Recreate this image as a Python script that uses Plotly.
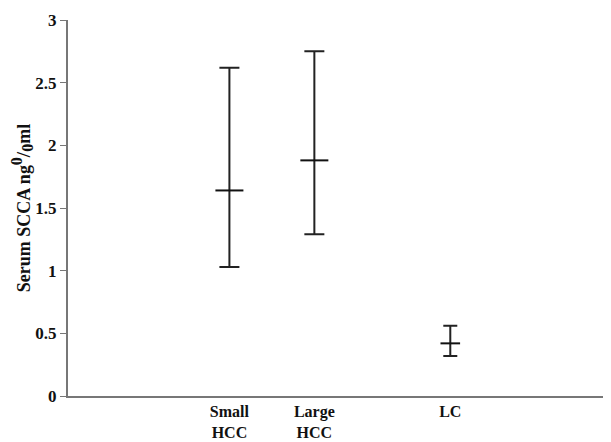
import plotly.graph_objects as go

categories = ["Small<br>HCC", "Large<br>HCC", "LC"]
means = [1.64, 1.88, 0.42]
upper = [2.62, 2.75, 0.56]
lower = [1.03, 1.29, 0.32]
y_ticks = [0, 0.5, 1, 1.5, 2, 2.5, 3]
y_tick_labels = ["0", "0.5", "1", "1.5", "2", "2.5", "3"]

x_pos = [1.9, 2.9, 4.5]
cap_half = [10, 10, 7]

fig = go.Figure()
for i in range(len(categories)):
    fig.add_trace(go.Scatter(
        x=[x_pos[i]], y=[means[i]], mode="markers",
        marker=dict(symbol="line-ew", size=2 * cap_half[i], line=dict(color="#111111", width=2), color="#111111"),
        error_y=dict(type="data", symmetric=False, array=[upper[i] - means[i]],
                     arrayminus=[means[i] - lower[i]],
                     color="#222222", thickness=2, width=cap_half[i]),
        showlegend=False,
    ))

title_text = ("<b>Serum SCCA ng<sup><span style='font-size:16px'>0</span></sup>"
              "<span style='font-size:19px'>/</span>"
              "<sub><span style='font-size:16px'>0</span></sub>ml</b>")

font = dict(family="Liberation Serif, Times New Roman, serif", size=17, color="#111111")
fig.update_layout(
    width=603, height=434,
    margin=dict(l=60, r=1, t=12, b=46),
    paper_bgcolor="white", plot_bgcolor="white",
    font=font,
    xaxis=dict(range=[0, 6.38], tickvals=x_pos,
               ticktext=["<b>%s</b>" % c.replace("<br>", "</b><br><b>") for c in categories],
               showgrid=False, zeroline=False, showline=True, linecolor="#777777", linewidth=2,
               ticks="", tickfont=dict(size=16), automargin=False),
    yaxis=dict(range=[0, 3], tickvals=y_ticks, ticktext=["<b>%s</b>" % t for t in y_tick_labels],
               showgrid=False, zeroline=False, showline=True, linecolor="#777777", linewidth=2,
               ticks="outside", ticklen=6, tickcolor="#777777", tickwidth=1, automargin=False,
               tickfont=dict(size=17),
               title=dict(text=title_text, standoff=6, font=dict(size=18))),
)
fig.write_html("out.html")
